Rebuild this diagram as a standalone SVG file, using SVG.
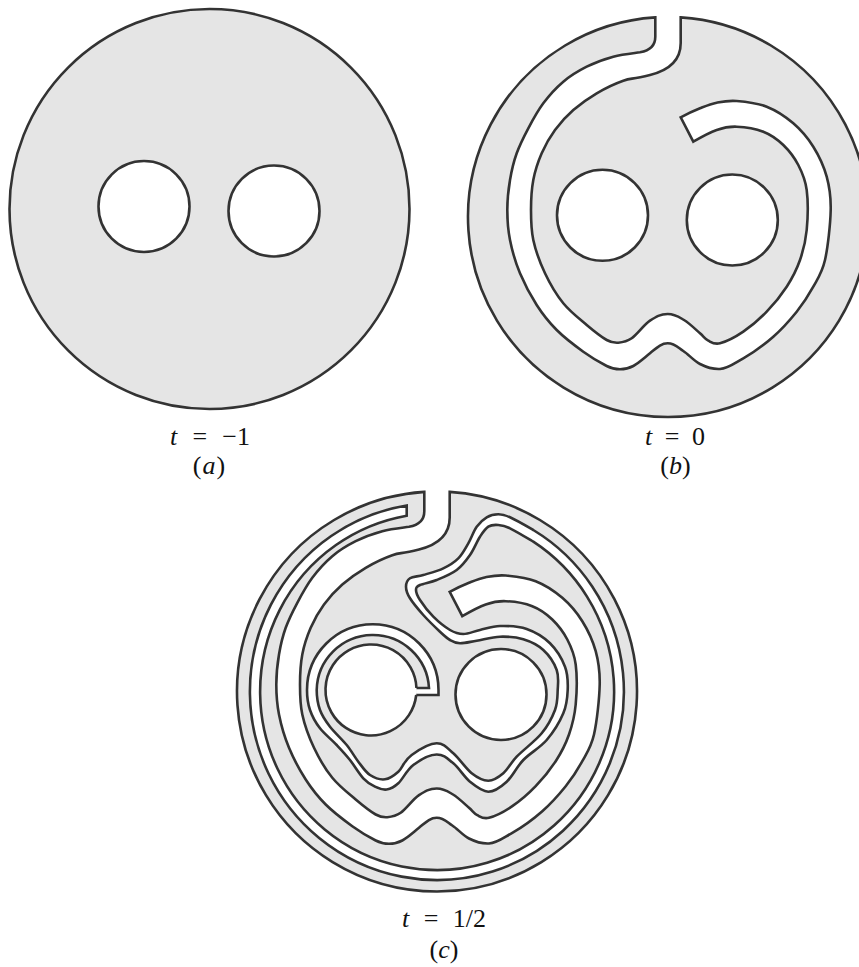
<svg xmlns="http://www.w3.org/2000/svg" xmlns:xlink="http://www.w3.org/1999/xlink" width="859" height="967" viewBox="0 0 859 967">
<style>
.disk{fill:#e5e5e5;stroke:#333;stroke-width:2.6;stroke-linejoin:miter}
.hole{fill:#fff;stroke:#333;stroke-width:2.6}
.fillw{fill:#fff;stroke:none}
.line{fill:none;stroke:#333;stroke-width:2.6}
.lbl{font-family:"Liberation Serif","DejaVu Serif",serif;font-size:26px;fill:#111;text-anchor:middle}
.lbl tspan{font-style:italic}
</style>
<defs>
<path id="slit" d="M655.3 17.4A200 200 0 1 0 680.7 17.4V43C680.7 60 670 70 650 75S632.2 77.6 623.3 80.7S605 88.4 596.7 93.3S580.3 103.9 573.3 110S560.3 122.8 555 130S545.3 145 541.7 153.3S535.1 170.5 533.3 180S531 200 531 210S531 229.4 533.3 240S540 262.7 545 273.3S556.3 294.7 563.3 303.3S579.5 318.9 586.7 325S601.4 337 606.7 340S614.1 343 618.3 342.7S626.4 342 631.7 338.3S644 324.7 650 320.7S660.2 314 667.7 314S678.6 316.8 684 320S696 329.8 700 333.3S705 339 708.3 340.7S714.2 344.8 720 343.3S735.5 337 743.3 331.7S759.5 319.2 766.7 311.7S781.1 295.3 786.7 286.7S796.7 269.5 800 260S805.6 241.7 806.7 230S808.1 200.8 806.7 190S802.2 172.5 798.3 165S789.1 150.6 783.3 145S771.1 134.7 763.3 131.7S744.5 127 736.7 126.7S723.9 127.5 716.7 130S704 135.5 693.3 141.7L680.7 117.3C687 114 694 110.7 700 108.3S710.6 103.9 716.7 102.7S728.4 100.3 736.7 101S757.3 103 766.7 106.7S785.5 116.6 793.3 123.3S807.7 137.8 813.3 146.7S823.8 166.1 826.7 176.7S831 196.1 830.7 210S827.9 247.2 825 260S818 278.1 813.3 286.7S803.4 303.4 796.7 311.7S782.2 328.9 773.3 336.7S752.7 353 743.3 358.3S728 368.5 720 369S706 367 700 364S688.7 354.5 683.3 351S675 343.3 667.7 343.3S656 348.5 650 353.3S638.3 363.3 633.3 366S626 369.3 620 369.3S611.5 368.5 606.7 366S591.6 357.7 583.3 351.7S564.5 337.8 556.7 330S542.8 314.5 536.7 305S524.5 284.1 520 273.3S512.1 250.6 510 240S507.3 220 507.3 210S508.4 189.5 510 180S513.6 161.9 516.7 153.3S523.9 136.6 528.3 128.3S537.5 111.1 543.3 103.3S556.1 87.8 563.3 81.7S578.4 70.9 586.7 66.7S604.4 59.1 613.3 56.7S631 53.5 640 52.3C650 50.5 655.3 45 655.3 36.7Z"/>
<path id="strip" d="M416.3 695H438.5V690A65.6 65.6 0 0 0 307 690C307 696 307.8 703.6 310 710S315.5 722.5 320 728.3S331.7 739.7 336.7 745S345.6 754.4 350 760S359.1 773.8 363.3 778.3S371.1 784.8 375 786.7S382.8 790.1 386.7 789.5S393.9 787.4 398.3 783.3S406.9 769.8 413.3 765S429 754.5 436.7 754.5S447.7 758.8 453.3 763.3S464.2 777 470 781.7S482.2 791.7 488.3 791.7S500.9 787 506.7 781.7S516.6 767 523.3 760S540 747.8 546.7 740S559.8 721.6 563.3 713.3S567.4 697.8 567.7 690S568 674.5 565 666.7S556.4 649.6 550 643.3S535 631.9 526.7 629S507.8 625.8 500 626S486.1 628.7 480 630S468.3 634 463.3 634S455 632.9 450 630S438.3 621.7 433.3 616.7S422.9 604.5 420 600S416 592.5 416 590S416.5 586.7 420 585S430.6 582.5 436.7 580S451.1 574.2 456.7 570S466.1 560.6 470 555S476.9 541.4 480 536.7S485.2 528.7 488.3 526.7S494.7 524.7 498.3 525S504.2 525.5 510 528.3S523 535.5 533.3 541.7A177 178.5 0 1 1 406.7 515.7V505.5A187 188.5 0 1 0 533.3 530C522 523.5 515.8 519.9 510 517.3S502.2 514.3 498.3 514.3S490.3 515.2 486.7 517.3S479.8 522.4 476.7 526.7S471.4 538 468.3 543.3S462.5 554.1 458.3 558.3S449.1 565.5 443.3 568.3S428.9 573.3 423.3 575S412.9 576.3 410 578.3S406 583.4 406 586.7S407.1 593.6 410 598.3S418.3 609.4 423.3 615S435.5 627.5 440 631.7S446.7 638.1 450 640S455.5 643.2 460 643.3S470 641.8 476.7 640.7S492.2 636.9 500 636.7S516.1 637.1 523.3 639.3S537.7 644.9 543.3 650S554.3 663.3 556.7 670S558 683.3 557.7 690S557.7 702.8 555 710S548.1 725.5 541.7 733.3S523.1 750 516.7 756.7S508 769.3 503.3 773.3S493.6 780.7 488.3 780.7S477.5 777.9 471.7 773.3S459.1 758.3 453.3 753.3S444.5 743.3 436.7 743.3S420 749 411.7 755S402.8 767.7 398.3 771.7S389.7 778.7 385 779.3S374.5 777.9 370 775S362.2 766.7 358.3 761.7S351.4 750.8 346.7 745S334.5 732.5 330 726.7S322.2 716.1 320 710S316.7 697 316.7 690A56.2 56.2 0 0 1 429 688H416.5"/>
</defs>
<g id="panel-a">
<circle class="disk" cx="209.5" cy="209" r="200"/>
<circle class="hole" cx="144" cy="206.5" r="45.5"/>
<circle class="hole" cx="274" cy="211" r="45.5"/>
<text class="lbl" x="210" y="444.5" word-spacing="8.7"><tspan>t</tspan> = −1</text>
<text class="lbl" x="209.5" y="473.5" letter-spacing="1">(<tspan>a</tspan>)</text>
</g>
<g id="panel-b">
<use href="#slit" class="disk"/>
<circle class="hole" cx="602.5" cy="215.3" r="45.5"/>
<circle class="hole" cx="732.3" cy="220" r="45.5"/>
<text class="lbl" x="675" y="444.5" word-spacing="6"><tspan>t</tspan> = 0</text>
<text class="lbl" x="675.5" y="473.5">(<tspan>b</tspan>)</text>
</g>
<g id="panel-c">
<use href="#slit" class="disk" transform="translate(-231 474.5)"/>
<circle class="fillw" cx="371" cy="690" r="45.5"/>
<circle class="hole" cx="501" cy="694.5" r="45.5"/>
<use href="#strip" class="fillw"/>
<use href="#strip" class="line"/>
<path class="line" d="M416.46 688A45.5 45.5 0 1 0 416.22 695"/>
<text class="lbl" x="444" y="927" word-spacing="8"><tspan>t</tspan> = 1/2</text>
<text class="lbl" x="444" y="958">(<tspan>c</tspan>)</text>
</g>
</svg>
